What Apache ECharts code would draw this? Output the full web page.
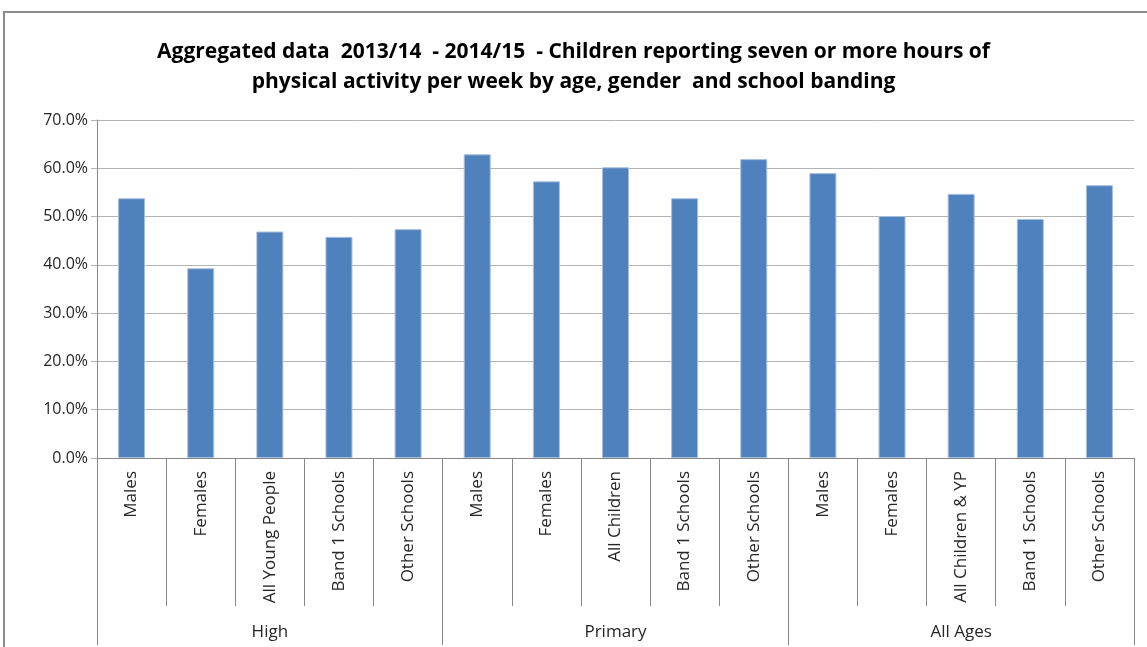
<!DOCTYPE html>
<html>
<head>
<meta charset="utf-8">
<script src="https://cdn.jsdelivr.net/npm/echarts@6/dist/echarts.min.js"></script>
<style>
  html, body { margin: 0; padding: 0; background: #fff; }
  #chart { width: 1147px; height: 647px; }
</style>
</head>
<body>
<div id="chart"></div>
<script>
// categories (bottom row) and their groups
const categories = [
  "Males", "Females", "All Young People", "Band 1 Schools", "Other Schools",
  "Males", "Females", "All Children", "Band 1 Schools", "Other Schools",
  "Males", "Females", "All Children & YP", "Band 1 Schools", "Other Schools"
];
const groups = ["High", "Primary", "All Ages"];
// % reporting 7+ hours activity per week
const values = [53.8, 39.3, 46.9, 45.8, 47.4, 62.9, 57.3, 60.2, 53.8, 61.9, 59.0, 50.1, 54.7, 49.5, 56.5];

const titleText = "Aggregated data  2013/14  - 2014/15  - Children reporting seven or more hours of\nphysical activity per week by age, gender  and school banding";

const chart = echarts.init(document.getElementById("chart"));
chart.setOption({
  animation: false,
  backgroundColor: "#fff",
  textStyle: { fontFamily: "Open Sans" },
  graphic: [
    {
      type: "rect",
      shape: { x: 4, y: 12, width: 1200, height: 700 },
      style: { fill: "none", stroke: "#8c8c8c", lineWidth: 2 },
      silent: true,
    },
  ],
  title: {
    text: titleText,
    left: "center",
    top: 32,
    textStyle: {
      fontFamily: "Open Sans",
      fontSize: 21,
      fontWeight: "bold",
      color: "#000",
      lineHeight: 30,
    },
  },
  grid: {
    left: 97,
    right: 13,
    top: 120,
    bottom: 189,
    containLabel: false,
  },
  xAxis: [
    {
      type: "category",
      data: categories,
      position: "bottom",
      axisLine: { show: true, lineStyle: { color: "#868686", width: 1 } },
      axisTick: { show: true, interval: 0, length: 148, lineStyle: { color: "#868686" } },
      axisLabel: {
        interval: 0,
        rotate: 90,
        margin: 13,
        fontSize: 17,
        color: "#262626",
      },
    },
    {
      type: "category",
      data: groups,
      position: "bottom",
      axisLine: { show: false },
      axisTick: { show: true, interval: 0, length: 187, lineStyle: { color: "#868686" } },
      axisLabel: {
        interval: 0,
        margin: 166,
        fontSize: 17,
        color: "#262626",
      },
    },
  ],
  yAxis: {
    type: "value",
    min: 0,
    max: 70,
    interval: 10,
    axisLine: { show: true, lineStyle: { color: "#868686" } },
    axisTick: { show: true, length: 6, lineStyle: { color: "#b3b3b3" } },
    splitLine: { show: true, lineStyle: { color: "#b3b3b3", width: 1 } },
    axisLabel: {
      formatter: (v) => v.toFixed(1) + "%",
      fontSize: 16,
      color: "#262626",
      margin: 9,
    },
  },
  series: [
    {
      type: "bar",
      xAxisIndex: 0,
      data: values,
      barWidth: 27,
      itemStyle: { color: "#4F81BD", borderColor: "#a7bfdf", borderWidth: 1 },
    },
  ],
});
</script>
</body>
</html>
